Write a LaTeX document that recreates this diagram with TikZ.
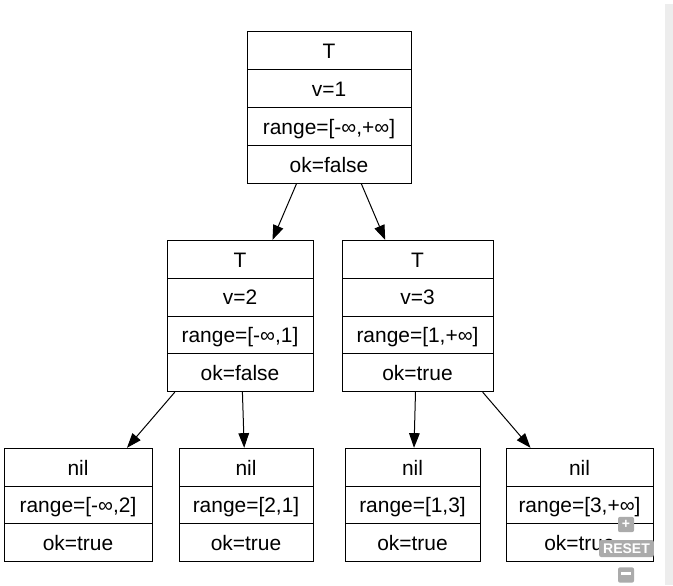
\documentclass[tikz,border=0pt]{standalone}
\usepackage{fontspec}
\setmainfont{Liberation Sans}
\usetikzlibrary{positioning, arrows.meta, shapes.multipart}

% one row of a record: fixed height and baseline
\newcommand{\cell}[1]{\rule[-7.9pt]{0pt}{27.6pt}#1}

\begin{document}
\begin{tikzpicture}[x=0.75pt,y=-0.75pt,
        rec/.style={draw,line width=0.75pt,fill=white,rectangle split,
                    rectangle split parts=#1,inner xsep=0pt,inner ysep=0pt,
                    font=\fontsize{15.7}{19}\selectfont},
        edge/.style={-{Triangle[length=11pt,width=8pt]},line width=0.75pt},
        zbtn/.style={fill=black!33,rounded corners=1.5pt,text=white,
                     font=\bfseries\fontsize{10.5}{12}\selectfont,
                     inner sep=0pt,minimum height=11.5pt}]
    \useasboundingbox (0,0) rectangle (673,585);
    \fill[black!7] (665,4) rectangle (673,585);
    % the tree
    \node[rec=4,minimum width=123pt] (root) at (329,107.5)
        {\cell{T}\nodepart{two}\cell{v=1}\nodepart{three}\cell{range=[-∞,+∞]}\nodepart{four}\cell{ok=false}};
    \node[rec=4,minimum width=109.5pt] (left) at (240,316)
        {\cell{T}\nodepart{two}\cell{v=2}\nodepart{three}\cell{range=[-∞,1]}\nodepart{four}\cell{ok=false}};
    \node[rec=4,minimum width=113.25pt] (right) at (417.5,316)
        {\cell{T}\nodepart{two}\cell{v=3}\nodepart{three}\cell{range=[1,+∞]}\nodepart{four}\cell{ok=true}};
    \node[rec=3,minimum width=111pt] (nilA) at (78,505)
        {\cell{nil}\nodepart{two}\cell{range=[-∞,2]}\nodepart{three}\cell{ok=true}};
    \node[rec=3,minimum width=100.5pt] (nilB) at (246,505)
        {\cell{nil}\nodepart{two}\cell{range=[2,1]}\nodepart{three}\cell{ok=true}};
    \node[rec=3,minimum width=101.25pt] (nilC) at (412.5,505)
        {\cell{nil}\nodepart{two}\cell{range=[1,3]}\nodepart{three}\cell{ok=true}};
    \node[rec=3,minimum width=110.25pt] (nilD) at (579.5,505)
        {\cell{nil}\nodepart{two}\cell{range=[3,+∞]}\nodepart{three}\cell{ok=true}};
    \draw[edge] (root) -- (left);
    \draw[edge] (root) -- (right);
    \draw[edge] (left) -- (nilA);
    \draw[edge] (left) -- (nilB);
    \draw[edge] (right) -- (nilC);
    \draw[edge] (right) -- (nilD);
    % zoom buttons
    \node[zbtn,minimum width=12pt] (zin) at (626,524.5) {+};
    \node[zbtn,minimum width=41pt,minimum height=12.75pt] (zreset) at (626.5,548.5) {RESET};
    \node[zbtn,minimum width=12pt] (zout) at (626,575) {\rule[2.5pt]{7pt}{2pt}};
\end{tikzpicture}
\end{document}
